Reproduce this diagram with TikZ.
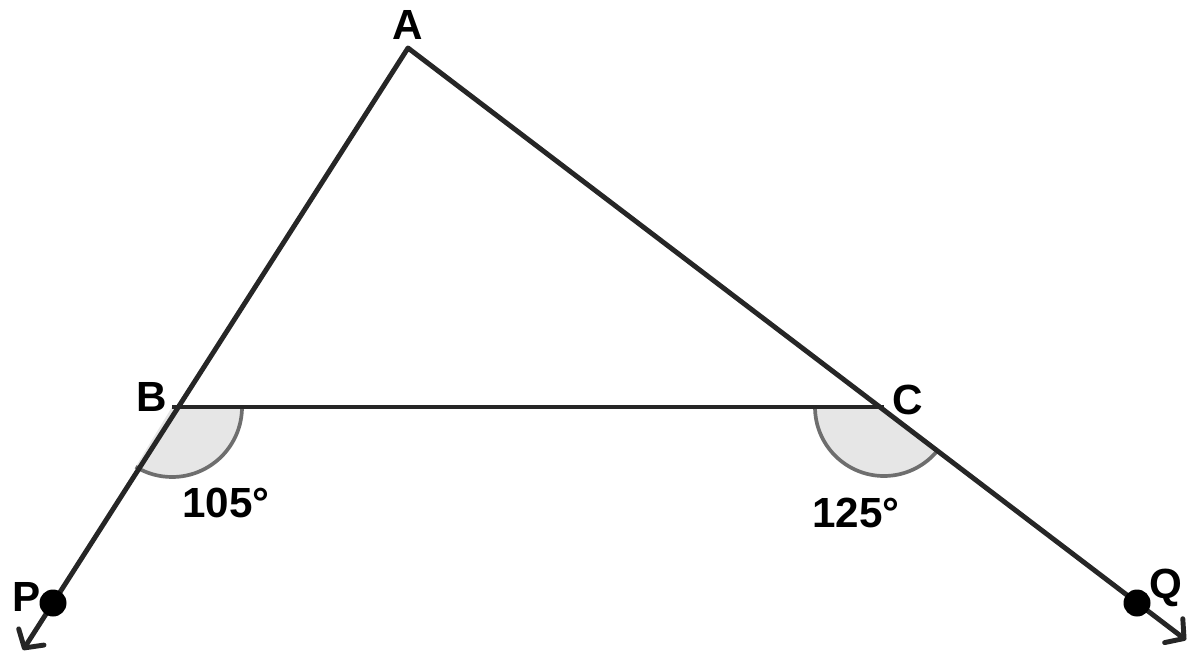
\documentclass[tikz,border=0pt]{standalone}
\usepackage{fontspec}
\setmainfont{Liberation Sans}
\usetikzlibrary{positioning, arrows.meta, calc}
\definecolor{anglegray}{HTML}{E6E6E6}
\definecolor{arcgray}{HTML}{6E6E6E}
\definecolor{linegray}{HTML}{262626}
\tikzstyle{seg} = [line width=2.8pt, draw=linegray, line join=round]

\begin{document}
\begin{tikzpicture}[nodes={font=\fontsize{24}{28}\selectfont\bfseries}]
    \tikzstyle{lbl} = [inner sep=0pt]
    \tikzstyle{dot} = [fill=black]
    \tikzstyle{anglearc} = [draw=arcgray, line width=2.1pt]
    \tikzstyle{ray} = [seg, {Straight Barb[round, length=0.26cm, width=0.6cm]}-{Straight Barb[round, length=0.26cm, width=0.6cm]}]

    \useasboundingbox (0,0) rectangle (24,-13.32);

    \coordinate (A) at (8.16,-0.96);
    \coordinate (B) at (3.44,-8.14);
    \coordinate (C) at (17.68,-8.14);
    \coordinate (P) at (1.06,-12.06);
    \coordinate (Q) at (22.74,-12.06);
    \coordinate (Pend) at (0.46,-13.0);
    \coordinate (Qend) at (23.72,-12.8);

    % angle marks
    \fill[anglegray] (B) -- ++(0:1.4) arc[start angle=0, end angle=-121.3, radius=1.4] -- cycle;
    \draw[anglearc] ($(B)+(0:1.4)$) arc[start angle=0, end angle=-121.3, radius=1.4];
    \fill[anglegray] (C) -- ++(180:1.38) arc[start angle=180, end angle=322.2, radius=1.38] -- cycle;
    \draw[anglearc] ($(C)+(180:1.38)$) arc[start angle=180, end angle=322.2, radius=1.38];

    \draw[ray] (Pend) -- (A) -- (Qend);
    \draw[seg] (B) -- (C);

    \fill[dot] (P) circle (0.27);
    \fill[dot] (Q) circle (0.27);

    \node[lbl](labA) at (8.16,-0.5) {A};
    \node[lbl](labB) at (3.04,-7.94) {B};
    \node[lbl](labC) at (18.16,-8.0) {C};
    \node[lbl](labP) at (0.54,-11.94) {P};
    \node[lbl](labQ) at (23.32,-11.76) {Q};
    \node[lbl](ang1) at (4.52,-10.06) {105°};
    \node[lbl](ang2) at (17.12,-10.26) {125°};
\end{tikzpicture}
\end{document}
